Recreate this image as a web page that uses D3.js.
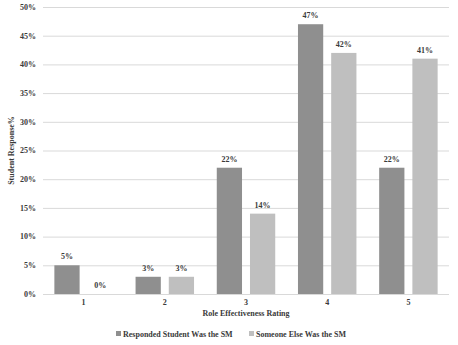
<!DOCTYPE html>
<html>
<head>
<meta charset="utf-8">
<script src="https://cdn.jsdelivr.net/npm/d3@7"></script>
<style>
  body { margin: 0; background: #fff; }
  text { font-family: "Liberation Serif", "DejaVu Serif", serif; font-weight: bold; fill: #3a3a3a; }
</style>
</head>
<body>
<div id="data"></div>
<script>
var ratings = ["1", "2", "3", "4", "5"];
var seriesNames = ["Responded Student Was the SM", "Someone Else Was the SM"];
var studentWasSM = [5, 3, 22, 47, 22];
var someoneElse = [0, 3, 14, 42, 41];
var yTicks = [0, 5, 10, 15, 20, 25, 30, 35, 40, 45, 50];
var colors = ["#8f8f8f", "#bfbfbf"];

var W = 458, H = 345,
    plotLeft = 43, plotRight = 449, plotTop = 7, plotBottom = 294;

var svg = d3.select("#data").append("svg").attr("width", W).attr("height", H);

var x0 = d3.scaleBand().domain(ratings).range([plotLeft, plotRight]).paddingInner(0.28).paddingOuter(0.14);
var x1 = d3.scaleBand().domain([0, 1]).range([0, x0.bandwidth()]).paddingInner(0.24);
var y = d3.scaleLinear().domain([0, 50]).range([plotBottom, plotTop]);

// gridlines
svg.append("g")
  .selectAll("line")
  .data(yTicks)
  .enter().append("line")
    .attr("x1", plotLeft).attr("x2", plotRight)
    .attr("y1", function(d) { return y(d) + 0.5; })
    .attr("y2", function(d) { return y(d) + 0.5; })
    .attr("stroke", "#d9d9d9")
    .attr("stroke-width", 1);

// y axis labels
svg.append("g")
  .selectAll("text")
  .data(yTicks)
  .enter().append("text")
    .attr("x", 36)
    .attr("y", function(d) { return y(d); })
    .attr("dy", "0.35em")
    .attr("text-anchor", "end")
    .attr("font-size", 8)
    .text(function(d) { return d + "%"; });

var rows = ratings.map(function(r, i) { return {rating: r, values: [studentWasSM[i], someoneElse[i]]}; });

var groups = svg.append("g")
  .selectAll("g")
  .data(rows)
  .enter().append("g")
    .attr("transform", function(d) { return "translate(" + x0(d.rating) + ",0)"; });

var cells = groups.selectAll("g")
  .data(function(d) { return d.values.map(function(v, k) { return {k: k, value: v}; }); })
  .enter().append("g");

cells.append("rect")
    .attr("x", function(d) { return x1(d.k); })
    .attr("y", function(d) { return y(d.value); })
    .attr("width", x1.bandwidth())
    .attr("height", function(d) { return plotBottom - y(d.value); })
    .attr("fill", function(d) { return colors[d.k]; });

cells.append("text")
    .attr("x", function(d) { return x1(d.k) + x1.bandwidth() / 2; })
    .attr("y", function(d) { return y(d.value) - 6; })
    .attr("text-anchor", "middle")
    .attr("font-size", 8)
    .text(function(d) { return d.value + "%"; });

// x tick labels
svg.append("g")
  .selectAll("text")
  .data(ratings)
  .enter().append("text")
    .attr("x", function(d) { return x0(d) + x0.bandwidth() / 2; })
    .attr("y", 305)
    .attr("text-anchor", "middle")
    .attr("font-size", 8)
    .text(function(d) { return d; });

svg.append("text")
    .attr("x", (plotLeft + plotRight) / 2)
    .attr("y", 316)
    .attr("text-anchor", "middle")
    .attr("font-size", 8)
    .text("Role Effectiveness Rating");

svg.append("text")
    .attr("transform", "translate(14," + ((plotTop + plotBottom) / 2) + ") rotate(-90)")
    .attr("text-anchor", "middle")
    .attr("font-size", 8)
    .text("Student Response%");

// legend
var legendX = [116, 249];
var legend = svg.append("g")
  .selectAll("g")
  .data(seriesNames)
  .enter().append("g")
    .attr("transform", function(d, i) { return "translate(" + legendX[i] + ",334)"; });

legend.append("rect")
    .attr("x", 0).attr("y", -3)
    .attr("width", 5).attr("height", 5)
    .attr("fill", function(d, i) { return colors[i]; });

legend.append("text")
    .attr("x", 7)
    .attr("y", 0)
    .attr("dy", "0.32em")
    .attr("font-size", 8)
    .text(function(d) { return d; });
</script>
</body>
</html>
